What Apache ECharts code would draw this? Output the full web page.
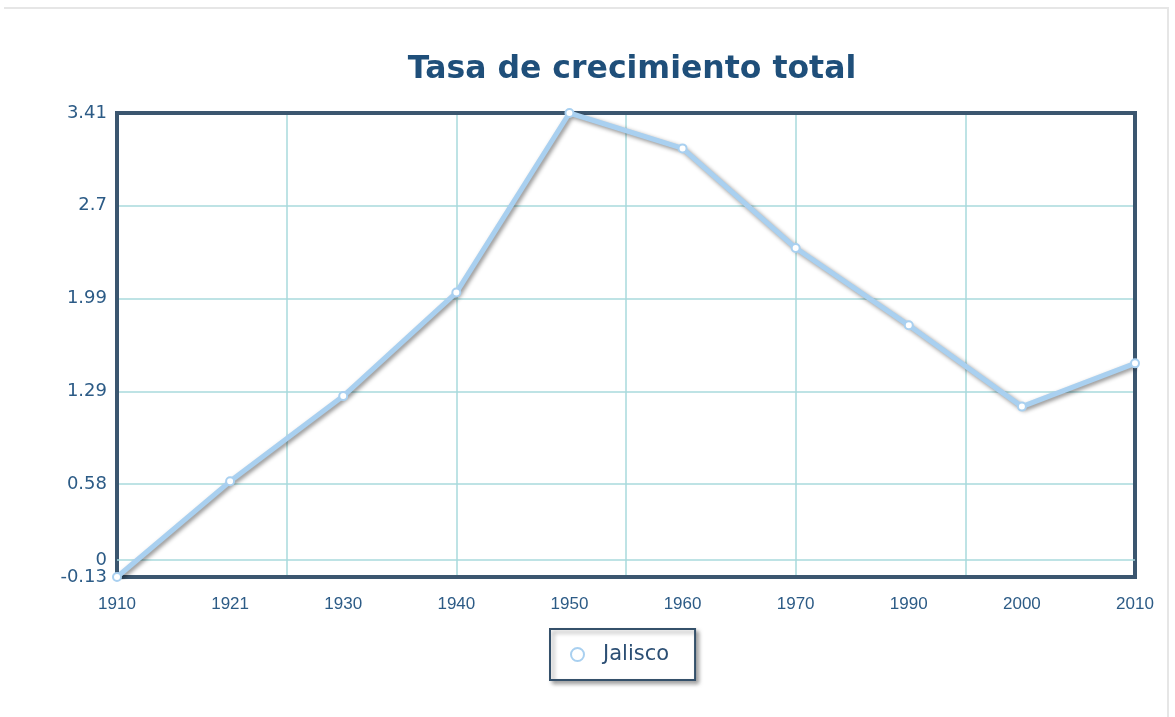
<!DOCTYPE html>
<html>
<head>
<meta charset="utf-8">
<script src="https://cdn.jsdelivr.net/npm/echarts@6/dist/echarts.min.js"></script>
<style>
  html, body { margin: 0; padding: 0; background: #fff; }
  #graph { width: 1175px; height: 717px; }
</style>
</head>
<body>
<div id="graph"></div>
<script>
var years = ['1910', '1921', '1930', '1940', '1950', '1960', '1970', '1990', '2000', '2010'];
var jalisco = [-0.13, 0.6, 1.25, 2.04, 3.41, 3.14, 2.38, 1.79, 1.17, 1.5];
var yMin = -0.13;
var yMax = 3.41;
var yStep = 0.708;

var dom = document.getElementById("graph");
var myChart = echarts.init(dom);

var labelColor = '#2c5b86';
var gridColor = '#a9dadd';

option = {
    animation: false,
    title: {
        text: 'Tasa de crecimiento total',
        left: 627,
        textAlign: 'center',
        top: 49,
        textStyle: {
            fontFamily: 'DejaVu Sans',
            fontSize: 31.5,
            fontWeight: 'bold',
            color: '#1f4f7a'
        }
    },
    graphic: [{
        type: 'polyline',
        shape: { points: [[4, 8], [1168, 8], [1168, 717]] },
        style: { stroke: '#e6e6e6', lineWidth: 2, fill: null },
        silent: true
    }],
    legend: {
        data: ['Jalisco'],
        left: 550,
        top: 629,
        padding: [15, 26, 15, 20],
        borderColor: '#34506a',
        borderWidth: 2,
        backgroundColor: '#fff',
        shadowColor: 'rgba(0,0,0,0.35)',
        shadowBlur: 4,
        shadowOffsetX: 3,
        shadowOffsetY: 3,
        itemWidth: 13,
        itemHeight: 13,
        itemGap: 14,
        icon: 'circle',
        itemStyle: { color: '#fff', borderColor: '#a9d0f0', borderWidth: 2 },
        textStyle: { fontFamily: 'DejaVu Sans', fontSize: 21, color: '#2c4f74', padding: [0, 0, 0, 14] }
    },
    grid: {
        left: 117,
        right: 40,
        top: 113,
        bottom: 140,
        show: true,
        z: 3,
        borderColor: '#3b566f',
        borderWidth: 4,
        backgroundColor: 'transparent'
    },
    xAxis: [{
        type: 'category',
        data: years,
        boundaryGap: false,
        axisLine: { show: false },
        axisTick: { show: false },
        splitLine: { show: false },
        axisLabel: {
            color: labelColor,
            fontFamily: 'Liberation Sans',
            fontSize: 17,
            margin: 19
        }
    }, {
        type: 'value',
        min: 0,
        max: 6,
        interval: 1,
        position: 'bottom',
        axisLine: { show: false },
        axisTick: { show: false },
        axisLabel: { show: false },
        splitLine: { show: true, lineStyle: { color: gridColor, width: 1.5 } }
    }],
    yAxis: {
        type: 'value',
        min: yMin,
        max: yMax,
        interval: yStep,
        axisLine: { show: false },
        axisTick: { show: false },
        axisLabel: {
            color: labelColor,
            fontFamily: 'DejaVu Sans',
            fontSize: 18,
            margin: 10,
            showMaxLabel: true,
            showMinLabel: true,
            formatter: function (v) {
                return String(Math.round(v * 100) / 100);
            }
        },
        splitLine: { show: true, lineStyle: { color: gridColor, width: 1.5 } }
    },
    series: [{
        name: 'Jalisco',
        type: 'line',
        data: jalisco,
        xAxisIndex: 0,
        symbol: 'circle',
        symbolSize: 8,
        showSymbol: true,
        itemStyle: { color: '#fff', borderColor: '#a9d0f0', borderWidth: 2 },
        lineStyle: {
            color: '#a9d0f0',
            width: 5,
            shadowColor: 'rgba(0,0,0,0.45)',
            shadowBlur: 4,
            shadowOffsetX: 2,
            shadowOffsetY: 2
        },
        z: 5,
        markLine: {
            silent: true,
            symbol: 'none',
            animation: false,
            lineStyle: { color: gridColor, width: 1.5, type: 'solid' },
            label: {
                position: 'start',
                formatter: '0',
                color: labelColor,
                fontFamily: 'DejaVu Sans',
                fontSize: 18,
                distance: 10
            },
            data: [{ yAxis: 0 }]
        }
    }]
};
myChart.setOption(option, true);
</script>
</body>
</html>
